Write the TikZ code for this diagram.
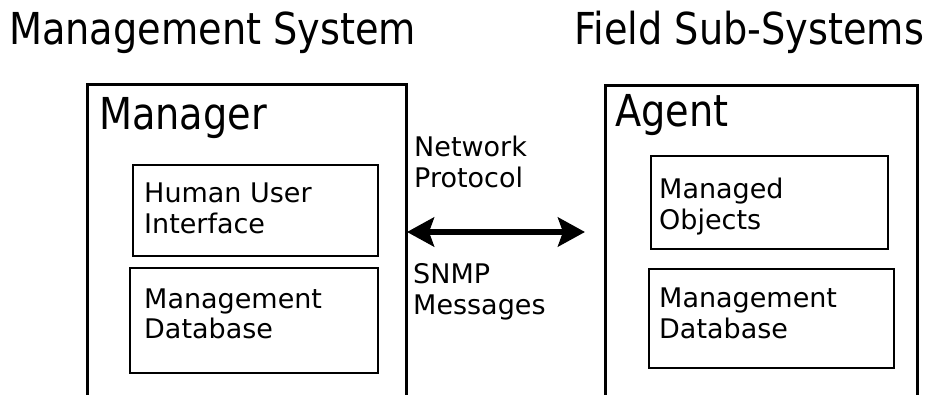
\documentclass[tikz,border=0pt]{standalone}
\usepackage{fontspec}
\setmainfont{DejaVu Sans}
\newfontfamily\headfont[FakeStretch=0.87]{DejaVu Sans}
\usetikzlibrary{arrows.meta}

\tikzset{
  headtext/.style={font=\headfont\fontsize{44}{52}\selectfont, inner sep=0, anchor=base west},
  % two-line labels: the base anchor sits on the last line
  bodytext/.style={font=\fontsize{27}{31}\selectfont, inner sep=0, anchor=base west, align=left},
  outerbox/.style={draw, line width=3.2pt, inner sep=0, anchor=north west},
  innerbox/.style={draw, line width=2pt, inner sep=0, anchor=north west},
  linktip/.style={},
  link/.style={line width=6pt, {Stealth[length=27pt,width=29pt,inset=5pt]}-{Stealth[length=27pt,width=29pt,inset=5pt]}}
}

\begin{document}
\begin{tikzpicture}[x=1pt, y=-1pt]
  \useasboundingbox (0,0) rectangle (940,395);
  \clip (0,0) rectangle (940,395);

  % side headings
  \node[headtext] (mstitle) at (9,45) {Management System};
  \node[headtext] (fstitle) at (574,45) {Field Sub-Systems};

  % manager side
  \node[outerbox, minimum width=319pt, minimum height=340pt] (manager) at (86,83) {};
  \node[headtext] (managerlbl) at (99,130) {Manager};
  \node[innerbox, minimum width=245pt, minimum height=91pt] (hui) at (132,164) {};
  \node[bodytext] (huilbl) at (144,234) {Human User\\Interface};
  \node[innerbox, minimum width=248pt, minimum height=105pt] (mdb) at (129,267) {};
  \node[bodytext] (mdblbl) at (144,339) {Management\\Database};

  % agent side
  \node[outerbox, minimum width=312pt, minimum height=340pt] (agent) at (604,84) {};
  \node[headtext] (agentlbl) at (615,127) {Agent};
  \node[innerbox, minimum width=237pt, minimum height=93pt] (mo) at (650,155) {};
  \node[bodytext] (molbl) at (659,230) {Managed\\Objects};
  \node[innerbox, minimum width=245pt, minimum height=99pt] (adb) at (648,268) {};
  \node[bodytext] (adblbl) at (659,338) {Management\\Database};

  % protocol link
  \node[bodytext] (proto) at (414,188) {Network\\Protocol};
  \node[bodytext] (snmp) at (413,315) {SNMP\\Messages};
  \coordinate (linkL) at (407,232);
  \coordinate (linkR) at (585,232);
  \draw[link] (linkL) -- (linkR);
\end{tikzpicture}
\end{document}
